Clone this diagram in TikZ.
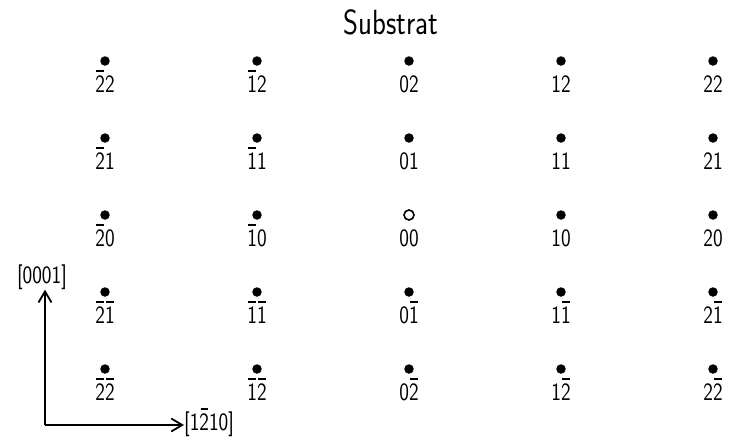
\documentclass[tikz,border=0pt]{standalone}
\usepackage{tikz}
\usetikzlibrary{arrows.meta}
\tikzset{spot/.style={circle, fill, inner sep=0pt, minimum size=9.5pt},
   hole/.style={circle, draw, line width=1.6pt, inner sep=0pt, minimum size=10pt},
   idx/.style={font=\sffamily\fontsize{25}{25}\selectfont, inner sep=0pt, anchor=base},
   axis/.style={line width=1.8pt, -{Straight Barb[length=11pt, width=13pt, line width=1.8pt]}}}
\newcommand{\nb}[1]{\ooalign{#1\cr\hidewidth\raisebox{0.82em}{\rule{0.36em}{1.3pt}}\hidewidth\cr}}
\newcommand{\narrow}[1]{\scalebox{0.82}[1]{#1}}
\newcommand{\hkdigit}[1]{\ifnum#1<0 \nb{\the\numexpr-#1\relax}\else#1\fi}

\begin{document}
\begin{tikzpicture}[x=1pt, y=-1pt]
\useasboundingbox (0,0) rectangle (732,437);

\node[idx, anchor=north] (title) at (391,9) {\narrow{\fontsize{35}{35}\selectfont Substrat}};

% reflexes h k
\foreach \h/\hx in {-2/105, -1/257, 0/409, 1/561, 2/713}
  \foreach \k/\ky in {2/61, 1/138, 0/215, -1/292, -2/369} {
    \edef\kind{\ifnum\h=0 \ifnum\k=0 hole\else spot\fi\else spot\fi}
    \node[\kind] (p\h\k) at (\hx,\ky) {};
    \node[idx] (l\h\k) at (\hx,{\ky+31}) {\narrow{\hkdigit{\h}\hkdigit{\k}}};
  }

% axes
\coordinate (o) at (45,425);
\node[idx, anchor=center] (ylab) at (42,277) {\narrow{[0001]}};
\node[idx, anchor=west] (xlab) at (184,424) {\narrow{[1\nb{2}10]}};
\draw[axis] (o) -- (o |- ylab.south);
\draw[axis] (o) -- (o -| xlab.west);
\end{tikzpicture}
\end{document}
